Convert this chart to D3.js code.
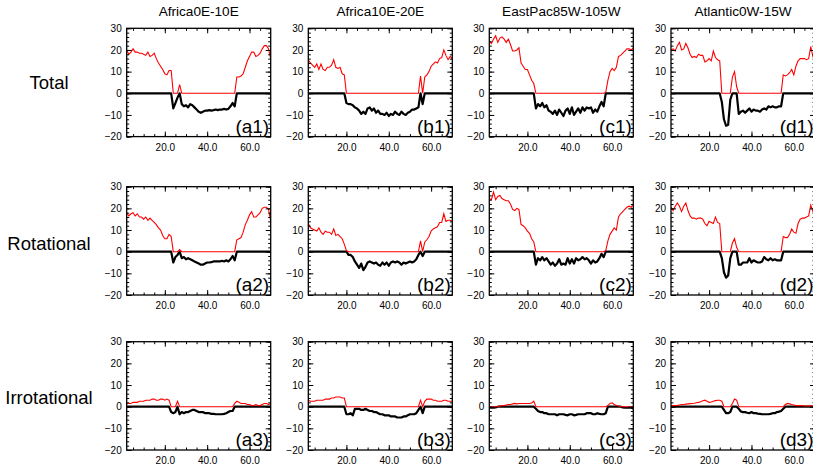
<!DOCTYPE html>
<html><head><meta charset="utf-8">
<script src="https://cdn.jsdelivr.net/npm/d3@7"></script>
<style>body{margin:0;background:#fff}</style>
</head><body><svg id="c" width="813" height="471"></svg>
<script>
// ---- data (x = pentad index starting at 2) ----
const xStart = 2;
const regions = ["Africa0E-10E", "Africa10E-20E", "EastPac85W-105W", "Atlantic0W-15W"];
const rowNames = ["Total", "Rotational", "Irrotational"];
const panelTags = [["(a1)","(b1)","(c1)","(d1)"],["(a2)","(b2)","(c2)","(d2)"],["(a3)","(b3)","(c3)","(d3)"]];
const yTicks = [-20, -10, 0, 10, 20, 30];
const xTicks = [20, 40, 60];

const totalAfr0 = [20,18,19,20.5,19,19,18.5,18.5,18,17.5,19,17,17.5,18.5,16,14,12.5,11,9,8.5,10.5,10.5,
  -7,-4.5,-2,4,-5,-6,-5.5,-6.5,-5,-5.5,-6.5,-7.5,-8.5,-9,-8.5,-8,-8,-7.8,-8,-7.8,-7.5,-7.8,-7.5,-7.5,-7.2,-7.5,-7.2,-6,-4.5,-6,
  7.5,7.5,8,9,12,15,17,19,19,17,17.5,18.5,20.5,22,22,20.5,16];
const totalAfr10 = [15.5,14,13,12,13.5,11,13.5,11,10.5,12,12,13,15.5,12,11.5,12,9,8.5,
  -4.5,-5,-5,-5.5,-6.5,-7,-8,-9.5,-8.5,-9.5,-7,-6.5,-8,-7,-9,-8,-9.5,-9.5,-10,-9,-10.5,-9.5,-10,-8.5,-9.5,-10,-8.5,-9.5,-10,-9,-8.5,-7.5,-7.5,-7,-6.5,
  8,-5,7.5,8.5,10,12.5,13.5,14.5,14,16,16.5,20,17.5,15.5,17,16];
const totalEPac = [24,23,25,26.5,23.5,25.5,26,25,23.5,25,22.5,19.5,19.5,20,21,14,12.5,11,11,8.5,6,4.5,
  -7,-5,-6,-4.5,-6.5,-5.5,-8,-8.5,-9.5,-8,-10,-7.5,-9,-10.5,-8,-7,-9.5,-6.5,-10,-8.5,-7,-9,-6.5,-8,-6.5,-7,-6.5,-9,-7.5,-8.5,-6,-4,-6,
  0.5,6,10,11.5,10.5,12,17,17.5,18.5,19.5,20.5,20.5,20,21];
const totalAtl = [20,20.5,19.5,22,23.5,20,20.5,23,21,18,16.5,17,16.5,18,17.5,17.5,14.5,15,16,15,19.5,16.5,15.5,15,
  -4,-12,-15,-14.5,-3,7.5,10,3,
  -9.5,-8.5,-8,-9,-8,-7,-8.5,-7.5,-8,-8,-8.5,-7.5,-7,-7.5,-6,-6.5,-6,-6.5,-6.5,-6,-6,
  8.5,8,8.5,9.5,11,8.5,12.5,15,16,16,16,15.5,16,21.5,17,18.5];

const rotAfr0 = [18,16.5,17.5,18,16.5,17.5,16,16,15,16,14.5,15.5,14.5,13.5,12.5,11,10,7.5,6,6,8,7,
  -5,-2.5,-1.5,1,-3,-2.5,-3.5,-3,-3.5,-4,-4.5,-5,-5.5,-6,-6,-5.5,-5,-5,-4.8,-4.5,-4.5,-4.5,-4.5,-4.2,-4.5,-4,-4.5,-3.5,-2,-4,
  5.5,6,6.5,9,12.5,14.5,17,18.5,16,16,17,18,20,20.5,20.5,19.5,14];
const rotAfr10 = [13,11,10.5,10,9.5,11,9,8,9.5,9,9,8,10.5,7.5,8,7,6,3.5,0.5,
  -1.5,-1.5,-2.5,-4.5,-6,-7.5,-5.5,-8.5,-7,-5,-4.5,-5,-5.5,-5,-6,-6.5,-5,-6,-5,-6.5,-5,-4.5,-5,-4.5,-5,-6,-5,-5.5,-5,-4.5,-5,-4.5,-3.5,-1.5,
  5,-2,4.5,5.5,7,9.5,10.5,11,11.5,13.5,13.5,17.5,14,14.5,14.5,14];
const rotEPac = [24.5,24,27.5,24,25.5,26,24.5,24,23.5,23.5,22,19.5,19,20,19.5,12.5,12,11,9.5,8.5,6,4.5,
  -6,-3,-4,-2.5,-4,-3,-4.5,-6,-5,-6.5,-5.5,-3.5,-6,-5.5,-6,-3,-5.5,-3.5,-5.5,-3,-4,-3.5,-2.5,-3.5,-3,-4,-5.5,-4,-5,-4.5,-3,-1,-2.5,
  0.5,5,8,9.5,11,10,16,17.5,18.5,19.5,20.5,21,20.5,22];
const rotAtl = [20.5,19,21,22.5,21,18.5,21,22.5,19,16.5,15.5,15.5,15,15.5,15.5,15,13,12,14,13.5,13,16,13.5,13,
  -3,-9.5,-12,-11,-3,4,6,2,
  -6,-6,-5,-5,-5,-3,-5,-4,-4.5,-5,-5,-4.5,-2.5,-3.5,-4,-3,-4,-3.5,-4,-4,-4,
  7,6.5,6.5,8,10.5,9,8.5,13,15,15.5,15.5,16,16.5,21.5,18.5,17];

const irrAfr0 = [1.5,1.5,1.5,2,2,2,2.5,2.5,2.5,3,3,3,3.5,3.5,3,3,3.5,3.5,3,3.5,3,
  -2.5,-3,-2.5,2.5,-3.5,-2.5,-3,-2.5,-2.5,-2,-1.5,-1.5,-2,-2.5,-2.5,-2.5,-3,-3,-3,-3.3,-3.3,-3.5,-3.5,-3.5,-3.5,-3.3,-3,-2.5,-2,-2,
  1.5,2.5,2,1.5,1.5,1.5,1,1,0.5,0.5,1,0.5,0.5,1,1.5,1.5,1,1.5];
const irrAfr10 = [3,2.5,2.5,2.5,3,3,3,3,3.5,3.5,3.5,4,4,4.5,4.5,4.5,4,4,
  -3.5,-3.5,-3,-4,-1,-1,-1,-1.5,-1.5,-1,-1.5,-2,-2,-2.5,-2.5,-3,-3.5,-3.5,-4,-4,-4,-4.5,-4.5,-4.5,-5,-5,-5,-4.5,-4.5,-4,-3.5,-3.5,-3.5,-3,-1.5,
  3,-3,2.5,3.5,3.5,3.5,3,3,2.5,2.5,2.5,3,3,2.5,2.5,2.5];
const irrEPac = [-0.5,-0.5,-0.5,-0.3,0,0.3,0.5,0.5,0.8,1,1,1.3,1.5,1.3,1.5,1.5,1.5,1.5,1.5,1.5,1.7,2.5,
  -1,-2,-2.5,-2.5,-3,-3,-3.5,-3.5,-3.5,-3.5,-4,-3.5,-3.5,-3.5,-3.8,-4,-3.5,-3.5,-4,-3.8,-3.5,-3.5,-3.5,-3.5,-3,-3,-3,-3.5,-3.5,-3,-3.3,-3.5,-3.5,-3,
  0.5,1.5,1.8,1,0.5,0.3,0,-0.3,-0.5,-0.5,-0.5,-0.5,-0.8];
const irrAtl = [0.5,0.5,0.5,0.6,0.8,1,1,1.2,1.3,1.4,1.5,1.6,1.8,2,2.3,2.7,3,2.5,2,2.2,2.5,2.8,3,3,2.5,
  -1.5,-3,-3,-2.5,1.5,3.5,3,
  -1,-2.2,-2.5,-2.5,-2.8,-3,-2.5,-3,-3,-3.2,-3.3,-3.5,-3.5,-3.5,-3.5,-3.3,-3,-3,-2.5,-2.3,-2,-1,
  1,1.5,1.3,1,0.8,0.5,0.5,0.5,0.5,0.3,0.3,0.3,0.5,0.3,0];

const grid = [
  [totalAfr0, totalAfr10, totalEPac, totalAtl],
  [rotAfr0, rotAfr10, rotEPac, rotAtl],
  [irrAfr0, irrAfr10, irrEPac, irrAtl]
];

// ---- layout ----
const svg = d3.select("#c");
const FONT = "'Liberation Sans', Arial, Helvetica, sans-serif";
const colLeft = [126.7, 308.3, 489.3, 671];
const rowTop = [28.3, 186.7, 341.7];
const W = 144, H = 108.3;
const xDomain = [2, 70];
const yDomain = [-20, 30];

// column titles
regions.forEach((t, c) => {
  svg.append("text").attr("x", colLeft[c] + W / 2).attr("y", 15.5)
    .attr("text-anchor", "middle").attr("font-family", FONT).attr("font-size", 13.6).text(t);
});
// row labels
const rowBase = [89, 250, 404];
rowNames.forEach((t, r) => {
  svg.append("text").attr("x", 49).attr("y", rowBase[r])
    .attr("text-anchor", "middle").attr("font-family", FONT).attr("font-size", 18.5).text(t);
});

grid.forEach((row, r) => row.forEach((vals, c) => {
  const g = svg.append("g").attr("transform", `translate(${colLeft[c]},${rowTop[r]})`);
  const x = d3.scaleLinear().domain(xDomain).range([0, W]);
  const y = d3.scaleLinear().domain(yDomain).range([H, 0]);
  const id = `clip${r}${c}`;
  g.append("clipPath").attr("id", id).append("rect").attr("width", W).attr("height", H);
  const pts = vals.map((v, i) => [xStart + i, v]);
  const line = d3.line().x(d => x(d[0])).y(d => y(d[1]));
  const lg = g.append("g").attr("clip-path", `url(#${id})`);
  lg.append("path").datum(pts.map(d => [d[0], Math.min(d[1], 0)]))
    .attr("d", line).attr("fill", "none").attr("stroke", "#000").attr("stroke-width", 2.2).attr("stroke-linejoin", "round");
  lg.append("path").datum(pts.map(d => [d[0], Math.max(d[1], 0)]))
    .attr("d", line).attr("fill", "none").attr("stroke", "#ff0000").attr("stroke-width", 1.1);

  const yMinor = d3.range(-20, 30.01, 2);
  const xMinor = d3.range(5, 70, 5);
  const style = sel => {
    sel.select(".domain").remove();
    sel.selectAll("line").attr("stroke", "#000").attr("stroke-width", 1);
    sel.selectAll("text").attr("font-family", FONT).attr("fill", "#000");
  };
  // minor ticks
  g.append("g").call(d3.axisLeft(y).tickValues(yMinor).tickSize(-2.5).tickFormat("")).call(style);
  g.append("g").attr("transform", `translate(${W},0)`).call(d3.axisRight(y).tickValues(yMinor).tickSize(-2.5).tickFormat("")).call(style);
  g.append("g").call(d3.axisTop(x).tickValues(xMinor).tickSize(-2.5).tickFormat("")).call(style);
  g.append("g").attr("transform", `translate(0,${H})`).call(d3.axisBottom(x).tickValues(xMinor).tickSize(-2.5).tickFormat("")).call(style);
  // major ticks
  g.append("g").call(d3.axisLeft(y).tickValues(yTicks).tickSize(-5).tickPadding(5).tickFormat(d3.format("d")))
    .call(style).selectAll("text").attr("font-size", 10);
  g.append("g").attr("transform", `translate(${W},0)`).call(d3.axisRight(y).tickValues(yTicks).tickSize(-5).tickFormat("")).call(style);
  g.append("g").call(d3.axisTop(x).tickValues(xTicks).tickSize(-5).tickFormat("")).call(style);
  g.append("g").attr("transform", `translate(0,${H})`).call(d3.axisBottom(x).tickValues(xTicks).tickSize(-5).tickPadding(7).tickFormat(d3.format(".1f")))
    .call(style).selectAll("text").attr("font-size", 10);
  // frame
  g.append("rect").attr("width", W).attr("height", H).attr("fill", "none").attr("stroke", "#000").attr("stroke-width", 1.3);
  // panel tag
  g.append("text").attr("x", W - 1.5).attr("y", H - 4).attr("text-anchor", "end")
    .attr("font-family", FONT).attr("font-size", 19).text(panelTags[r][c]);
}));
</script></body></html>
